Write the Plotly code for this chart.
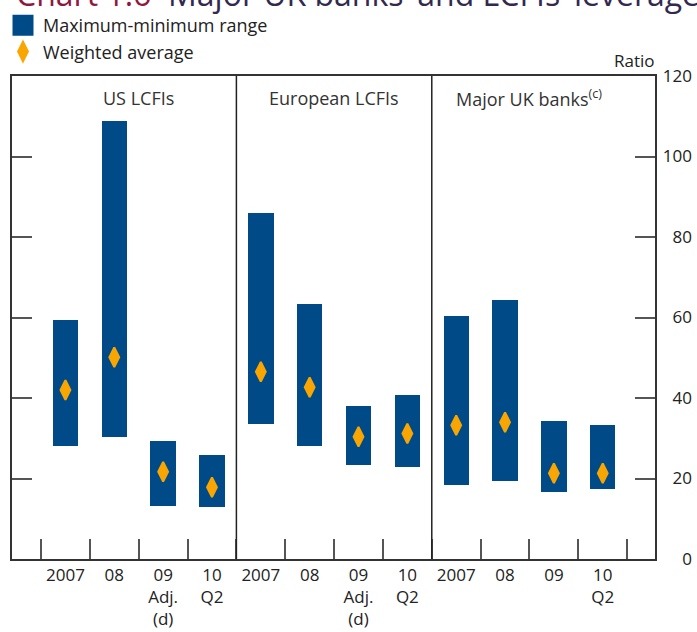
"""Leverage ratios of major UK banks and LCFIs: max-min range bars with weighted averages."""

import plotly.graph_objects as go

groups = ["US LCFIs", "European LCFIs", "Major UK banks<sup>(c)</sup>"]

us_labels = ["2007", "08", "09<br>Adj.<br>(d)", "10<br>Q2"]
eu_labels = ["2007", "08", "09<br>Adj.<br>(d)", "10<br>Q2"]
uk_labels = ["2007", "08", "09", "10<br>Q2"]

us_max = [59.5, 108.9, 29.4, 25.8]
us_min = [28.1, 30.4, 13.2, 12.8]
us_avg = [42.0, 50.1, 21.7, 17.8]

eu_max = [86.0, 63.3, 38.0, 40.7]
eu_min = [33.5, 28.2, 23.4, 22.9]
eu_avg = [46.5, 42.7, 30.4, 31.2]

uk_max = [60.4, 64.3, 34.2, 33.3]
uk_min = [18.5, 19.4, 16.7, 17.3]
uk_avg = [33.2, 34.0, 21.3, 21.3]

y_ticks = [0, 20, 40, 60, 80, 100, 120]

BLUE = "#004b87"
ORANGE = "#f9a602"
AXIS = "#333333"
TICK = "#555555"
FONT = "Open Sans"

W, H = 697, 632
ML, MR, MT, MB = 12, 2, 76, 73
PW, PH = W - ML - MR, H - MT - MB


def px_x(x):
    return (x - ML) / PW


def px_y(y):
    return 1 - (y - MT) / PH


labels = us_labels + eu_labels + uk_labels
highs = us_max + eu_max + uk_max
lows = us_min + eu_min + uk_min
avgs = us_avg + eu_avg + uk_avg
xpos = [i + 1 for i in range(len(labels))]

fig = go.Figure()
fig.add_trace(go.Bar(
    x=xpos, y=[h - l for h, l in zip(highs, lows)], base=lows, width=0.52,
    marker={"color": BLUE, "line": {"width": 0}}, showlegend=False, hoverinfo="skip",
))
# legend proxy so the key square is sized like the original
fig.add_trace(go.Scatter(
    x=[None], y=[None], mode="markers", name="Maximum-minimum range",
    marker={"symbol": "square", "size": 16, "color": BLUE, "line": {"color": BLUE, "width": 5}},
))
fig.add_trace(go.Scatter(
    x=xpos, y=avgs, mode="markers", name="Weighted average",
    marker={"symbol": "diamond-tall", "size": 14, "color": ORANGE, "line": {"color": ORANGE, "width": 2}},
))
# carries the right-aligned value labels
fig.add_trace(go.Scatter(x=[None], y=[None], yaxis="y2", showlegend=False, hoverinfo="skip"))

for xv in (4.5, 8.5):
    fig.add_vline(x=xv, line_color="#222222", line_width=1.5)

for i, name in enumerate(groups):
    fig.add_annotation(x=2.5 + 4 * i, y=px_y(98), xref="x", yref="paper", text=name, showarrow=False,
                       font={"size": 18, "color": "#333333"}, yanchor="middle")

fig.add_annotation(x=px_x(657), y=px_y(60), xref="paper", yref="paper", text="Ratio", showarrow=False,
                   xanchor="right", yanchor="middle", font={"size": 17, "color": "#222222"})

# chart title, cropped at the top edge as in the source image
fig.add_annotation(
    x=px_x(14), y=px_y(-8), xref="paper", yref="paper", xanchor="left", yanchor="middle", showarrow=False,
    text="<span style='color:#8e1840'>Chart 1.6</span>  Major UK banks’ and LCFIs’ leverage ratios<sup>(a)(b)</sup>",
    font={"size": 32, "color": "#33294f"},
)

fig.update_layout(
    width=W, height=H,
    margin={"l": ML, "r": MR, "t": MT, "b": MB, "autoexpand": False},
    paper_bgcolor="white", plot_bgcolor="white",
    font={"family": FONT, "size": 17, "color": "#222222"},
    legend={"x": px_x(3), "y": px_y(7), "xanchor": "left", "yanchor": "top", "bgcolor": "rgba(0,0,0,0)",
            "font": {"size": 18, "color": "#222222"}, "tracegroupgap": 0},
    bargap=0,
    xaxis={
        "domain": [0, 643 / PW], "range": [-0.094, 13.07], "automargin": False,
        "tickmode": "array", "tickvals": xpos, "ticktext": labels, "ticks": "", "tickangle": 0,
        "showline": True, "linecolor": AXIS, "linewidth": 1.5, "mirror": True,
        "showgrid": False, "zeroline": False, "tickfont": {"size": 17, "color": "#222222"},
        "minor": {"tickmode": "array", "tickvals": [p + 0.5 for p in range(0, 13)],
                  "ticks": "inside", "ticklen": 20, "tickwidth": 2, "tickcolor": TICK, "showgrid": False},
    },
    yaxis={
        "range": [0, 120], "side": "right", "tickmode": "array", "tickvals": y_ticks, "automargin": False,
        "ticks": "inside", "ticklen": 20, "tickwidth": 2, "tickcolor": TICK,
        "showline": True, "linecolor": AXIS, "linewidth": 1.5, "mirror": "ticks",
        "showticklabels": False, "showgrid": False, "zeroline": False,
    },
    yaxis2={
        "range": [0, 120], "overlaying": "y", "side": "right", "anchor": "free", "position": 1.0,
        "ticklabelposition": "inside", "ticklabeloverflow": "allow", "automargin": False,
        "tickmode": "array", "tickvals": y_ticks, "ticks": "", "showline": False,
        "showgrid": False, "zeroline": False, "tickfont": {"size": 17, "color": "#222222"},
    },
)

fig.write_html("out.html", config={"displayModeBar": False},
               post_script="document.body.style.margin = '0';")
